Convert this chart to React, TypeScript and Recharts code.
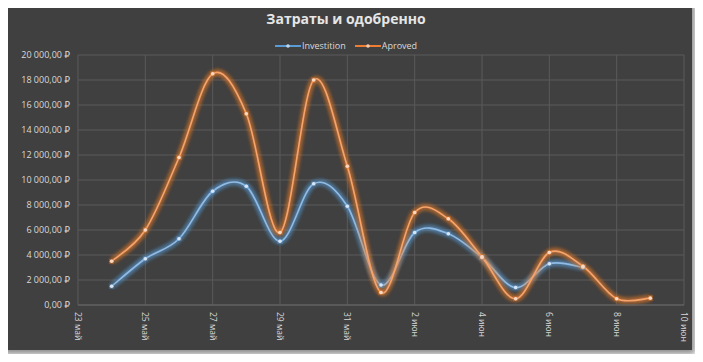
import React from 'react';
import { LineChart, Line, XAxis, YAxis, CartesianGrid } from 'recharts';

const DATES = [
  '2024-05-24', '2024-05-25', '2024-05-26', '2024-05-27', '2024-05-28', '2024-05-29',
  '2024-05-30', '2024-05-31', '2024-06-01', '2024-06-02', '2024-06-03', '2024-06-04',
  '2024-06-05', '2024-06-06', '2024-06-07', '2024-06-08', '2024-06-09',
];
const INVESTITION = [1500, 3700, 5300, 9100, 9500, 5100, 9700, 7900, 1600, 5800, 5700, 3800, 1400, 3300, 3000, null, null];
const APROVED = [3500, 6000, 11800, 18500, 15300, 5800, 18000, 11100, 1000, 7400, 6900, 3850, 500, 4200, 3100, 500, 550];

const TICK_DATES = [
  '2024-05-23', '2024-05-25', '2024-05-27', '2024-05-29', '2024-05-31',
  '2024-06-02', '2024-06-04', '2024-06-06', '2024-06-08', '2024-06-10',
];
const TICK_LABELS = ['23 май', '25 май', '27 май', '29 май', '31 май', '2 июн', '4 июн', '6 июн', '8 июн', '10 июн'];
const Y_TICKS = [0, 2000, 4000, 6000, 8000, 10000, 12000, 14000, 16000, 18000, 20000];

const DAY = 86400000;
const origin = Date.parse(TICK_DATES[0]);
const toDay = (d: string) => Math.round((Date.parse(d) - origin) / DAY);

const data = DATES.map((d, i) => ({
  x: toDay(d),
  investition: INVESTITION[i],
  aproved: APROVED[i],
}));
const xTicks = TICK_DATES.map(toDay);

const FONT = '"Open Sans", "DejaVu Sans", sans-serif';
const TEXT = '#d9d9d9';

const formatRub = (v: number) =>
  `${String(v).replace(/\B(?=(\d{3})+(?!\d))/g, ' ')},00 ₽`;

// Excel style smoothing: bezier with control points at 1/6 of neighbour difference
const excelCurve = (context: any) => {
  let pts: number[][] = [];
  return {
    areaStart() {},
    areaEnd() {},
    lineStart() {
      pts = [];
    },
    point(x: number, y: number) {
      pts.push([+x, +y]);
    },
    lineEnd() {
      if (!pts.length) return;
      context.moveTo(pts[0][0], pts[0][1]);
      for (let i = 0; i < pts.length - 1; i++) {
        const p0 = pts[i - 1] || pts[i];
        const p1 = pts[i];
        const p2 = pts[i + 1];
        const p3 = pts[i + 2] || p2;
        context.bezierCurveTo(
          p1[0] + (p2[0] - p0[0]) / 6,
          p1[1] + (p2[1] - p0[1]) / 6,
          p2[0] - (p3[0] - p1[0]) / 6,
          p2[1] - (p3[1] - p1[1]) / 6,
          p2[0],
          p2[1]
        );
      }
    },
  };
};

const XTick = ({ x, y, payload }: any) => {
  const idx = xTicks.indexOf(payload.value);
  return (
    <text
      transform={`translate(${x},${y - 1}) rotate(90)`}
      dy="0.35em"
      textAnchor="start"
      fill={TEXT}
      fontSize={8.5}
      fontFamily={FONT}
    >
      {TICK_LABELS[idx]}
    </text>
  );
};

const LegendItem = ({ color, dot, label }: { color: string; dot: string; label: string }) => (
  <div style={{ display: 'flex', alignItems: 'center', marginRight: 9 }}>
    <svg width={26} height={8}>
      <line x1={0} y1={4} x2={26} y2={4} stroke={color} strokeWidth={2} />
      <circle cx={13} cy={4} r={1.8} fill={dot} />
    </svg>
    <span style={{ marginLeft: 1 }}>{label}</span>
  </div>
);

const Glow = ({ id, color }: { id: string; color: string }) => (
  <filter id={id} x="-10%" y="-10%" width="120%" height="120%">
    <feGaussianBlur in="SourceAlpha" stdDeviation="2.8" result="b" />
    <feFlood floodColor={color} floodOpacity="1" />
    <feComposite in2="b" operator="in" result="g" />
    <feMerge>
      <feMergeNode in="g" />
      <feMergeNode in="g" />
      <feMergeNode in="g" />
      <feMergeNode in="SourceGraphic" />
    </feMerge>
  </filter>
);

export default function App() {
  return (
    <div style={{ margin: -8, width: 703, height: 362, background: '#ffffff', position: 'relative', overflow: 'hidden' }}>
      <div
        style={{
          position: 'absolute',
          left: 0,
          top: 0,
          width: 692,
          height: 350,
          background: '#404040',
          borderTop: '1px solid #5a5a5a',
          boxSizing: 'border-box',
          boxShadow: '3px 4px 6px rgba(0,0,0,0.45)',
          fontFamily: FONT,
        }}
      >
        <div
          style={{
            position: 'absolute',
            top: 8,
            left: 0,
            width: 692,
            textAlign: 'center',
            color: '#e6e6e6',
            fontSize: 14,
            fontWeight: 700,
          }}
        >
          Затраты и одобренно
        </div>
        <div
          style={{
            position: 'absolute',
            top: 38,
            left: 275,
            display: 'flex',
            color: TEXT,
            fontSize: 9,
            lineHeight: '14px',
          }}
        >
          <LegendItem color="#5B9BD5" dot="#bdd7ee" label="Investition" />
          <LegendItem color="#ED7D31" dot="#f8cbad" label="Aproved" />
        </div>
        <div style={{ position: 'absolute', left: 0, top: 0 }}>
          <LineChart width={692} height={349} data={data} margin={{ top: 54, right: 8, bottom: 0, left: 0 }}>
            <defs>
              <Glow id="glowBlue" color="#5B9BD5" />
              <Glow id="glowOrange" color="#ED7D31" />
            </defs>
            <CartesianGrid stroke="#5a5a5a" strokeWidth={1} />
            <XAxis
              dataKey="x"
              type="number"
              domain={[xTicks[0], xTicks[xTicks.length - 1]]}
              ticks={xTicks}
              interval={0}
              tick={<XTick />}
              tickLine={false}
              axisLine={{ stroke: '#666666' }}
              height={45}
            />
            <YAxis
              domain={[0, 20000]}
              ticks={Y_TICKS}
              interval={0}
              tickFormatter={formatRub}
              tick={{ fill: TEXT, fontSize: 9, fontFamily: FONT }}
              tickLine={false}
              axisLine={false}
              width={78}
            />
            <Line
              dataKey="investition"
              type={excelCurve as any}
              stroke="#8fbce6"
              strokeWidth={1.6}
              filter="url(#glowBlue)"
              dot={{ r: 1.8, fill: '#d6e6f5', stroke: 'none' }}
              activeDot={false}
              isAnimationActive={false}
            />
            <Line
              dataKey="aproved"
              type={excelCurve as any}
              stroke="#f6a468"
              strokeWidth={1.6}
              filter="url(#glowOrange)"
              dot={{ r: 1.8, fill: '#fbd9c0', stroke: 'none' }}
              activeDot={false}
              isAnimationActive={false}
            />
          </LineChart>
        </div>
      </div>
    </div>
  );
}
